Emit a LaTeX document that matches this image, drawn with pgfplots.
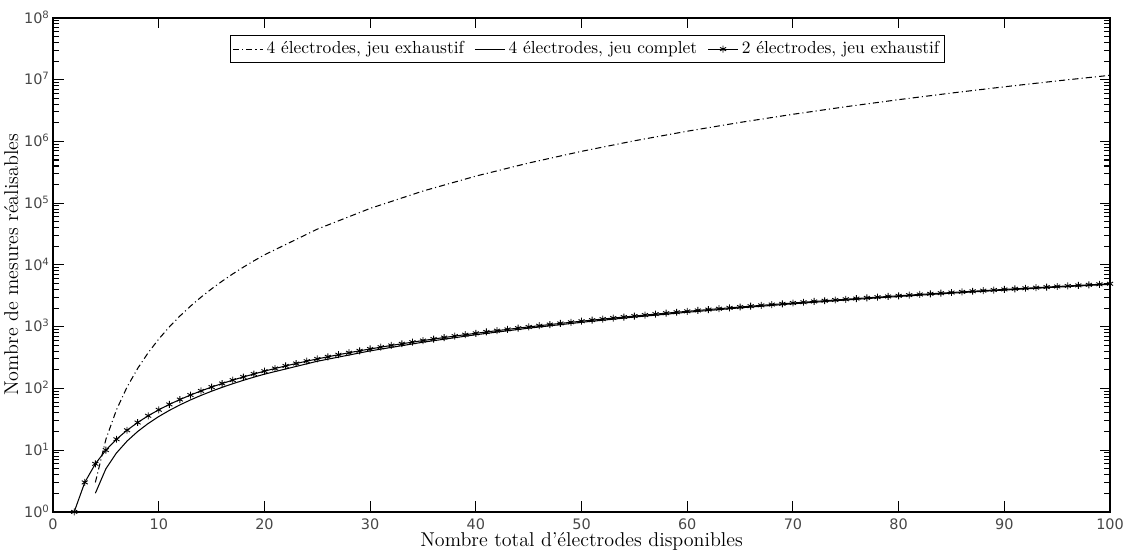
\documentclass[border=0pt]{standalone}
\usepackage{fontspec}
\usepackage{pgfplots}
\pgfplotsset{compat=1.18}
\newfontfamily\tickfont{DejaVu Sans}
\begin{document}
\begin{tikzpicture}
\begin{axis}[
  scale only axis, width=607.5pt, height=283.9pt,
  at={(0,0)}, anchor=south west,
  xmin=0, xmax=100, ymin=1, ymax=1e8, ymode=log,
  clip=false,
  tick align=inside, tick pos=both,
  major tick length=6pt, minor tick length=3.2pt,
  every tick/.style={line width=0.6pt, black},
  axis line style={line width=0.85pt},
  xtick={0,10,...,100},
  xticklabels={0,10,20,30,40,50,60,70,80,90,100},
  xticklabel style={font=\tickfont\fontsize{8.3}{10}\selectfont, text=black!72, inner sep=0pt, anchor=north, yshift=-3.6pt},
  yticklabel={\pgfmathparse{int(round(\tick/2.302585093))}10\textsuperscript{\pgfmathresult}},
  yticklabel style={font=\tickfont\fontsize{8.3}{10}\selectfont, text=black!72, inner sep=0pt, anchor=base east, yshift=-3pt, xshift=-1.7pt},
  xlabel={Nombre total d'électrodes disponibles},
  ylabel={Nombre de mesures réalisables},
  xlabel style={font=\fontsize{11.5}{13}\selectfont, inner sep=0pt, at={(axis description cs:0.5,-0.0704)}, anchor=base},
  ylabel style={font=\fontsize{11.5}{13}\selectfont, inner sep=0pt, at={(axis description cs:-0.0331,0.5)}, anchor=base},
  legend columns=3,
  legend cell align=left,
  legend style={at={(axis description cs:0.5057,0.9656)}, anchor=north, draw=black, line width=0.8pt,
    font=\fontsize{10}{12}\selectfont, inner xsep=1pt, inner ysep=1.5pt,
    /tikz/every even column/.append style={column sep=4pt}},
  legend image post style={line width=0.6pt},
]
\addplot[black, line width=0.6pt, dash pattern=on 3.5pt off 1.8pt on 0.6pt off 1.8pt] coordinates {
(4,3)(5,15)(6,45)(7,105)(8,210)(9,378)(10,630)(11,990)(12,1485)(13,2145)(14,3003)(15,4095)(16,5460)(17,7140)(18,9180)(19,11628)(20,14535)
(25,37950)(30,82215)(35,157080)(40,274170)(45,446985)(50,690900)(55,1023165)(60,1462905)(65,2031120)(70,2750685)(75,3646350)(80,4744740)(85,6074355)(90,7665570)(95,9550635)(100,11763675)
};
\addlegendentry{4 électrodes, jeu exhaustif}
\addplot[black, line width=0.6pt] coordinates {
(4,2)(5,5)(6,9)(7,14)(8,20)(9,27)(10,35)(11,44)(12,54)(13,65)(14,77)(15,90)(16,104)(17,119)(18,135)(19,152)(20,170)
(25,275)(30,405)(35,560)(40,740)(45,945)(50,1175)(55,1430)(60,1710)(65,2015)(70,2345)(75,2700)(80,3080)(85,3485)(90,3915)(95,4370)(100,4850)
};
\addlegendentry{4 électrodes, jeu complet}
\addplot[black, line width=0.6pt, mark=asterisk, mark size=2pt, mark options={line width=0.5pt}] coordinates {
(2,1)(3,3)(4,6)(5,10)(6,15)(7,21)(8,28)(9,36)(10,45)(11,55)(12,66)(13,78)(14,91)(15,105)(16,120)(17,136)(18,153)(19,171)(20,190)
(21,210)(22,231)(23,253)(24,276)(25,300)(26,325)(27,351)(28,378)(29,406)(30,435)(31,465)(32,496)(33,528)(34,561)(35,595)(36,630)(37,666)(38,703)(39,741)(40,780)
(41,820)(42,861)(43,903)(44,946)(45,990)(46,1035)(47,1081)(48,1128)(49,1176)(50,1225)(51,1275)(52,1326)(53,1378)(54,1431)(55,1485)(56,1540)(57,1596)(58,1653)(59,1711)(60,1770)
(61,1830)(62,1891)(63,1953)(64,2016)(65,2080)(66,2145)(67,2211)(68,2278)(69,2346)(70,2415)(71,2485)(72,2556)(73,2628)(74,2701)(75,2775)(76,2850)(77,2926)(78,3003)(79,3081)(80,3160)
(81,3240)(82,3321)(83,3403)(84,3486)(85,3570)(86,3655)(87,3741)(88,3828)(89,3916)(90,4005)(91,4095)(92,4186)(93,4278)(94,4371)(95,4465)(96,4560)(97,4656)(98,4753)(99,4851)(100,4950)
};
\addlegendentry{2 électrodes, jeu exhaustif}
\end{axis}
\pgfresetboundingbox
\useasboundingbox (-30.5pt,-22.4pt) rectangle (618.4pt,294.2pt);
\end{tikzpicture}
\end{document}
